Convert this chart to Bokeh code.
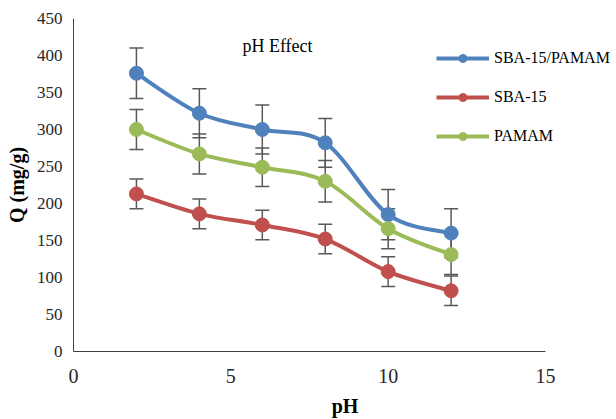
import numpy as np
from bokeh.plotting import figure
from bokeh.models import (ColumnDataSource, Whisker, TeeHead, Legend, LegendItem,
                          Label, FixedTicker)
from bokeh.embed import file_html
from bokeh.resources import INLINE

# ---- data ----
ph = [2, 4, 6, 8, 10, 12]
series_names = ["SBA-15/PAMAM", "SBA-15", "PAMAM"]
q_sba_pamam = [376, 322, 300, 282, 185, 160]
q_sba = [213, 186, 171, 152, 108, 82]
q_pamam = [300, 267, 249, 230, 166, 131]
err_sba_pamam = [34, 33, 33, 33, 34, 33]
err_sba = [20, 20, 20, 20, 20, 20]
err_pamam = [27, 27, 26, 28, 27, 27]
y_ticks = [0, 50, 100, 150, 200, 250, 300, 350, 400, 450]
x_ticks = [0, 5, 10, 15]

colors = ["#4F81BD", "#C0504D", "#9BBB59"]
SERIF = "Liberation Serif"

# frame spans to the right edge (legend sits there); axis line is bounded to 0..15
p = figure(width=616, height=419,
           x_range=(0, 17.256), y_range=(0, 450),
           output_backend="svg", toolbar_location=None,
           min_border_left=73, min_border_right=0,
           min_border_top=18, min_border_bottom=68)
p.outline_line_color = None
p.grid.visible = False
p.background_fill_color = "white"
p.border_fill_color = "white"

for ax in (p.xaxis[0], p.yaxis[0]):
    ax.axis_line_color = "#404040"
    ax.axis_line_width = 1
    ax.major_tick_line_color = None
    ax.minor_tick_line_color = None
    ax.major_tick_out = 0
    ax.major_tick_in = 0
    ax.minor_tick_out = 0
    ax.minor_tick_in = 0
    ax.major_label_text_font = SERIF
    ax.major_label_text_color = "#262626"
    ax.axis_label_text_font = SERIF
    ax.axis_label_text_font_style = "bold"
    ax.axis_label_text_font_size = "20px"
    ax.axis_label_text_color = "#000000"

p.xaxis.bounds = (0, 15)
p.xaxis.ticker = FixedTicker(ticks=x_ticks)
p.yaxis.ticker = FixedTicker(ticks=y_ticks)
p.xaxis.major_label_text_font_size = "20px"
p.yaxis.major_label_text_font_size = "17px"
p.xaxis.axis_label = "pH"
p.yaxis.axis_label = "Q (mg/g)"
p.xaxis.major_label_standoff = 17
p.yaxis.major_label_standoff = 11
p.xaxis.axis_label_standoff = 9
p.yaxis.axis_label_standoff = 6


def smooth_segments(xs, ys):
    xs = np.asarray(xs, float)
    ys = np.asarray(ys, float)
    n = len(xs)
    x0, y0, x1, y1, cx0, cy0, cx1, cy1 = ([] for _ in range(8))
    for i in range(n - 1):
        im = max(i - 1, 0)
        ip = min(i + 2, n - 1)
        x0.append(xs[i]); y0.append(ys[i])
        x1.append(xs[i + 1]); y1.append(ys[i + 1])
        cx0.append(xs[i] + (xs[i + 1] - xs[im]) / 6)
        cy0.append(ys[i] + (ys[i + 1] - ys[im]) / 6)
        cx1.append(xs[i + 1] - (xs[ip] - xs[i]) / 6)
        cy1.append(ys[i + 1] - (ys[ip] - ys[i]) / 6)
    return dict(x0=x0, y0=y0, x1=x1, y1=y1, cx0=cx0, cy0=cy0, cx1=cx1, cy1=cy1)


all_q = [q_sba_pamam, q_sba, q_pamam]
all_err = [err_sba_pamam, err_sba, err_pamam]
items = []
for name, q, err, c in zip(series_names, all_q, all_err, colors):
    src = ColumnDataSource(dict(x=ph, y=q,
                                lo=[v - e for v, e in zip(q, err)],
                                hi=[v + e for v, e in zip(q, err)]))
    w = Whisker(source=src, base="x", lower="lo", upper="hi",
                line_color="#595959", line_width=1.5,
                upper_head=TeeHead(size=14, line_color="#595959", line_width=1.5),
                lower_head=TeeHead(size=14, line_color="#595959", line_width=1.5))
    p.add_layout(w)
    bsrc = ColumnDataSource(smooth_segments(ph, q))
    p.bezier(x0="x0", y0="y0", x1="x1", y1="y1", cx0="cx0", cy0="cy0",
             cx1="cx1", cy1="cy1", source=bsrc, line_color=c, line_width=4)
    p.scatter("x", "y", source=src, size=14, fill_color=c, line_color=c)
    # legend swatch renderers (no visible data)
    lr = p.line(x=[np.nan], y=[np.nan], line_color=c, line_width=4)
    sr = p.scatter(x=[np.nan], y=[np.nan], size=8, fill_color=c, line_color=c)
    items.append(LegendItem(label=name, renderers=[lr, sr]))

legend = Legend(items=items, location=(363, 205), orientation="vertical",
                glyph_width=53, glyph_height=20, label_height=20,
                spacing=19, padding=0, margin=0, label_standoff=5,
                label_text_font=SERIF, label_text_font_size="16px",
                label_text_color="#000000",
                border_line_color=None, background_fill_alpha=0)
p.add_layout(legend, "center")

title = Label(x=204, y=306, x_units="screen", y_units="screen",
              text="pH Effect", text_font=SERIF, text_font_size="18px",
              text_color="#000000", text_align="center", text_baseline="middle")
p.add_layout(title)

open("out.html", "w").write(file_html(p, INLINE))
